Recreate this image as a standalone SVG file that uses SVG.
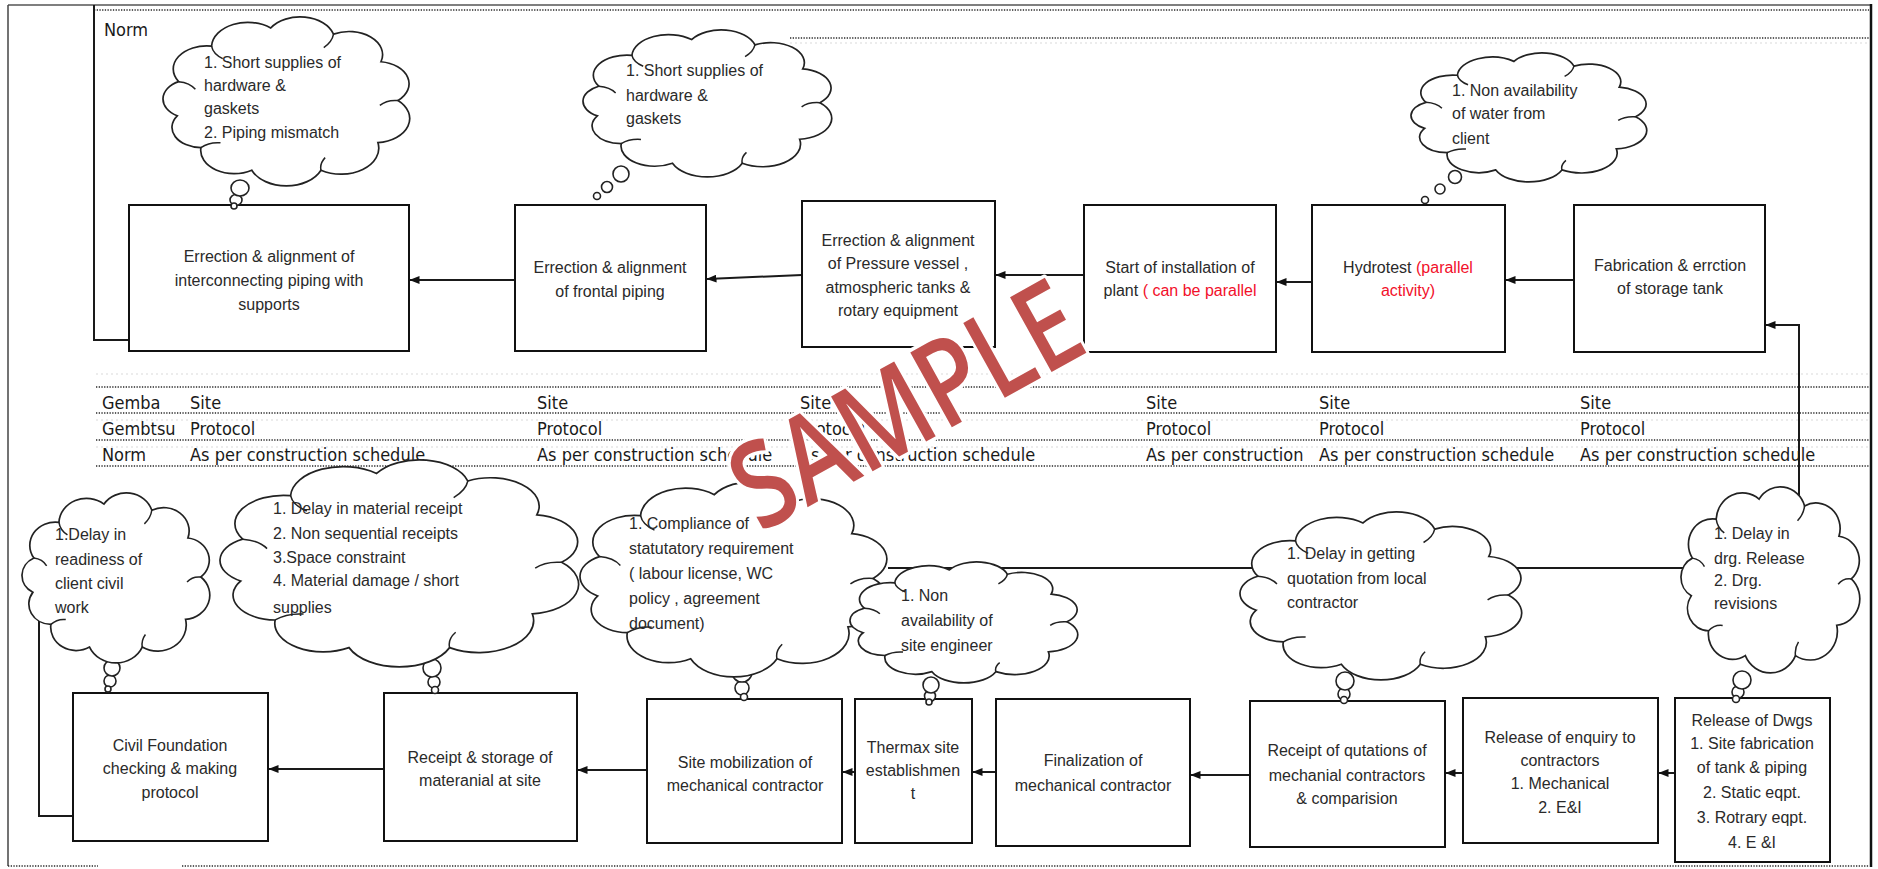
<svg xmlns="http://www.w3.org/2000/svg" width="1878" height="869" viewBox="0 0 1878 869">
<style>
  .box{fill:#fff;stroke:#111;stroke-width:2}
  .bt{font-family:"Liberation Sans",Arial,sans-serif;font-size:16px;fill:#2a2a2a;text-anchor:middle}
  .ct{font-family:"Liberation Sans",Arial,sans-serif;font-size:16px;fill:#2a2a2a}
  .tt{font-family:"DejaVu Sans Condensed","DejaVu Sans",sans-serif;font-stretch:condensed;font-size:18px;fill:#1a1a1a}
  .red{fill:#f2102a}
  .con{fill:none;stroke:#1a1a1a;stroke-width:2}
  .arr{marker-end:url(#ah)}
  .dot{stroke:#2a2a2a;stroke-width:1.6;stroke-dasharray:1.3 1.4;fill:none}
  .faint{stroke:#dadada;stroke-width:1.2;stroke-dasharray:2 3;fill:none}
  .cl{fill:#fff;stroke:#222;stroke-width:1.7;vector-effect:non-scaling-stroke}
  .cli{fill:none;stroke:#222;stroke-width:1.5;vector-effect:non-scaling-stroke}
  .bub{fill:#fff;stroke:#222;stroke-width:1.6}
  .wm{font-family:"Open Sans","Liberation Sans",sans-serif;font-weight:600;font-size:120px;fill:#c0504d;stroke:#fff;stroke-width:7;paint-order:stroke;stroke-linejoin:round;text-anchor:middle}
</style>
<defs>
  <marker id="ah" viewBox="0 0 10 8" refX="9.5" refY="4" markerWidth="10" markerHeight="8" markerUnits="userSpaceOnUse" orient="auto">
    <path d="M0,0 L10,4 L0,8 z" fill="#111"/>
  </marker>
  <!-- cloud outline, stretched to each callout's box -->
  <symbol id="cloud" viewBox="5.8 6.7 88.5 87.6" preserveAspectRatio="none" overflow="visible">
    <path class="cl" vector-effect="non-scaling-stroke" d="M10.9,57.9 A10,10 0 0 1 11.4,40.2 A12,12 0 0 1 23.2,21.8 A13,13 0 0 1 44.4,12.4 A12.5,12.5 0 0 1 66.9,15.6 A12,12 0 0 1 83.9,29.9 A11.5,11.5 0 0 1 90,50 A12.5,12.5 0 0 1 82.8,71.8 A13.5,13.5 0 0 1 62.4,86.1 A13.5,13.5 0 0 1 37.6,86.1 A12,12 0 0 1 19.4,74.4 A10.5,10.5 0 0 1 10.9,57.9 Z"/>
    <path class="cli" vector-effect="non-scaling-stroke" d="M11.4,40.2 q4,0.5 6,4 M23.2,21.8 q0.5,4 4,6.5 M66.9,15.6 q-0.5,4 -3.5,7 M90,50 q-4,-0.5 -6.5,2.5 M62.4,86.1 q-0.5,-3.5 1.5,-6.5 M19.4,74.4 q3,-3 7,-2.5"/>
  </symbol>
</defs>

<rect width="1878" height="869" fill="#fff"/>

<!-- page frame -->
<g id="frame">
  <line x1="8" y1="5" x2="1871" y2="5" stroke="#555" stroke-width="1.5"/>
  <line x1="8" y1="5" x2="8" y2="866" stroke="#444" stroke-width="1.5"/>
  <line x1="1871" y1="4" x2="1871" y2="867" stroke="#111" stroke-width="2.5"/>
  <line class="dot" x1="8" y1="866" x2="98" y2="866"/>
  <line class="dot" x1="182" y1="866" x2="1869" y2="866"/>
</g>

<!-- gemba / gembutsu / norm tables -->
<g id="tables">
  <line class="dot" x1="94" y1="10" x2="1869" y2="10"/>
  <line class="dot" x1="790" y1="38" x2="1869" y2="38"/>
  <line class="faint" x1="790" y1="43" x2="1869" y2="43"/>
  <text class="tt" x="104" y="36">Norm</text>

  <line class="faint" x1="96" y1="374" x2="1869" y2="374"/>
  <line class="dot" x1="96" y1="387" x2="1869" y2="387"/>
  <line class="dot" x1="96" y1="413" x2="1869" y2="413"/>
  <line class="faint" x1="96" y1="420" x2="1869" y2="420"/>
  <line class="dot" x1="96" y1="440" x2="1869" y2="440"/>
  <line class="faint" x1="96" y1="447" x2="1869" y2="447"/>
  <line class="dot" x1="96" y1="466" x2="1869" y2="466"/>

  <text class="tt" x="102" y="409">Gemba</text>
  <text class="tt" x="102" y="435">Gembtsu</text>
  <text class="tt" x="102" y="461">Norm</text>

  <text class="tt" x="190" y="409">Site</text>
  <text class="tt" x="537" y="409">Site</text>
  <text class="tt" x="800" y="409">Site</text>
  <text class="tt" x="1146" y="409">Site</text>
  <text class="tt" x="1319" y="409">Site</text>
  <text class="tt" x="1580" y="409">Site</text>

  <text class="tt" x="190" y="435">Protocol</text>
  <text class="tt" x="537" y="435">Protocol</text>
  <text class="tt" x="800" y="435">Protocol</text>
  <text class="tt" x="1146" y="435">Protocol</text>
  <text class="tt" x="1319" y="435">Protocol</text>
  <text class="tt" x="1580" y="435">Protocol</text>

  <text class="tt" x="190" y="461">As per construction schedule</text>
  <text class="tt" x="537" y="461">As per construction schedule</text>
  <text class="tt" x="800" y="461">As per construction schedule</text>
  <text class="tt" x="1146" y="461">As per construction</text>
  <text class="tt" x="1319" y="461">As per construction schedule</text>
  <text class="tt" x="1580" y="461">As per construction schedule</text>
</g>

<!-- connectors -->
<g id="connectors">
  <path class="con" d="M129,340 H94 V5"/>
  <path class="con" d="M73,816 H39 V560"/>
  <path class="con arr" d="M1799,600 V325 H1766"/>
  <path class="con" d="M888,568 H1700"/>

  <path class="con arr" d="M1574,280 H1506"/>
  <path class="con arr" d="M1312,282 H1277"/>
  <path class="con arr" d="M1084,275 H996"/>
  <path class="con arr" d="M802,275 L707,279"/>
  <path class="con arr" d="M515,280 H410"/>

  <path class="con arr" d="M1675,773 H1659"/>
  <path class="con arr" d="M1463,773 H1446"/>
  <path class="con arr" d="M1250,775 H1191"/>
  <path class="con arr" d="M996,772 H973"/>
  <path class="con arr" d="M855,772 H843"/>
  <path class="con arr" d="M647,770 H578"/>
  <path class="con arr" d="M384,769 H269"/>
</g>

<!-- process steps, upper line -->
<g id="n-interconnecting-piping">
  <rect class="box" x="129" y="205" width="280" height="146"/>
  <text class="bt"><tspan x="269" y="262">Errection &amp; alignment of</tspan><tspan x="269" y="286">interconnecting  piping with</tspan><tspan x="269" y="310">supports</tspan></text>
</g>
<g id="n-frontal-piping">
  <rect class="box" x="515" y="205" width="191" height="146"/>
  <text class="bt"><tspan x="610" y="273">Errection &amp; alignment</tspan><tspan x="610" y="297">of frontal  piping</tspan></text>
</g>
<g id="n-pressure-vessel">
  <rect class="box" x="802" y="201" width="193" height="146"/>
  <text class="bt"><tspan x="898" y="246">Errection &amp; alignment</tspan><tspan x="898" y="269">of Pressure vessel ,</tspan><tspan x="898" y="293">atmospheric tanks  &amp;</tspan><tspan x="898" y="316">rotary equipment</tspan></text>
</g>
<g id="n-start-installation">
  <rect class="box" x="1084" y="205" width="192" height="147"/>
  <text class="bt"><tspan x="1180" y="273">Start of installation  of</tspan><tspan x="1180" y="296">plant <tspan class="red">( can be parallel</tspan></tspan></text>
</g>
<g id="n-hydrotest">
  <rect class="box" x="1312" y="205" width="193" height="147"/>
  <text class="bt"><tspan x="1408" y="273">Hydrotest <tspan class="red">(parallel</tspan></tspan><tspan class="red" x="1408" y="296">activity)</tspan></text>
</g>
<g id="n-storage-tank">
  <rect class="box" x="1574" y="205" width="191" height="147"/>
  <text class="bt"><tspan x="1670" y="271">Fabrication &amp; errction</tspan><tspan x="1670" y="294">of storage tank</tspan></text>
</g>

<!-- process steps, lower line -->
<g id="n-civil-foundation">
  <rect class="box" x="73" y="693" width="195" height="148"/>
  <text class="bt"><tspan x="170" y="751">Civil Foundation</tspan><tspan x="170" y="774">checking &amp; making</tspan><tspan x="170" y="798">protocol</tspan></text>
</g>
<g id="n-material-receipt">
  <rect class="box" x="384" y="693" width="193" height="148"/>
  <text class="bt"><tspan x="480" y="763">Receipt &amp; storage of</tspan><tspan x="480" y="786">materanial at site</tspan></text>
</g>
<g id="n-site-mobilization">
  <rect class="box" x="647" y="699" width="195" height="144"/>
  <text class="bt"><tspan x="745" y="768">Site mobilization  of</tspan><tspan x="745" y="791">mechanical contractor</tspan></text>
</g>
<g id="n-site-establishment">
  <rect class="box" x="855" y="699" width="117" height="144"/>
  <text class="bt"><tspan x="913" y="753">Thermax site</tspan><tspan x="913" y="776">establishmen</tspan><tspan x="913" y="799">t</tspan></text>
</g>
<g id="n-finalization">
  <rect class="box" x="996" y="699" width="194" height="147"/>
  <text class="bt"><tspan x="1093" y="766">Finalization of</tspan><tspan x="1093" y="791">mechanical  contractor</tspan></text>
</g>
<g id="n-quotations">
  <rect class="box" x="1250" y="701" width="195" height="146"/>
  <text class="bt"><tspan x="1347" y="756">Receipt of qutations of</tspan><tspan x="1347" y="781">mechanial contractors</tspan><tspan x="1347" y="804">&amp; comparision</tspan></text>
</g>
<g id="n-enquiry">
  <rect class="box" x="1463" y="698" width="195" height="145"/>
  <text class="bt"><tspan x="1560" y="743">Release of enquiry to</tspan><tspan x="1560" y="766">contractors</tspan><tspan x="1560" y="789">1. Mechanical</tspan><tspan x="1560" y="813">2. E&amp;I</tspan></text>
</g>
<g id="n-release-dwgs">
  <rect class="box" x="1675" y="698" width="155" height="164"/>
  <text class="bt"><tspan x="1752" y="726">Release of Dwgs</tspan><tspan x="1752" y="749">1. Site fabrication</tspan><tspan x="1752" y="773">of tank &amp; piping</tspan><tspan x="1752" y="798">2. Static eqpt.</tspan><tspan x="1752" y="823">3. Rotrary eqpt.</tspan><tspan x="1752" y="848">4. E &amp;I</tspan></text>
</g>

<!-- issue callouts -->
<g id="c-piping-mismatch">
  <ellipse class="bub" cx="236" cy="200" rx="6" ry="5.5"/>
  <ellipse class="bub" cx="234" cy="206" rx="3" ry="3"/>
  <ellipse class="bub" cx="240" cy="188" rx="9" ry="8"/>
  <use href="#cloud" x="163" y="17" width="247" height="169"/>
  <text class="ct"><tspan x="204" y="68">1. Short supplies  of</tspan><tspan x="204" y="91">hardware &amp;</tspan><tspan x="204" y="114">gaskets</tspan><tspan x="204" y="138">2. Piping mismatch</tspan></text>
</g>
<g id="c-short-supplies">
  <circle class="bub" cx="597" cy="196" r="3.5"/>
  <circle class="bub" cx="607" cy="187" r="5.5"/>
  <circle class="bub" cx="621" cy="174" r="8"/>
  <use href="#cloud" x="583" y="30" width="249" height="147"/>
  <text class="ct"><tspan x="626" y="76">1. Short supplies  of</tspan><tspan x="626" y="101">hardware &amp;</tspan><tspan x="626" y="124">gaskets</tspan></text>
</g>
<g id="c-water">
  <circle class="bub" cx="1425" cy="200" r="3.5"/>
  <circle class="bub" cx="1440" cy="189" r="5"/>
  <circle class="bub" cx="1455" cy="177" r="6.5"/>
  <use href="#cloud" x="1411" y="53" width="236" height="129"/>
  <text class="ct"><tspan x="1452" y="96">1. Non availability</tspan><tspan x="1452" y="119">of water from</tspan><tspan x="1452" y="144">client</tspan></text>
</g>
<g id="c-civil-readiness">
  <ellipse class="bub" cx="110" cy="681" rx="6" ry="6"/>
  <ellipse class="bub" cx="108" cy="689" rx="3" ry="3"/>
  <ellipse class="bub" cx="112" cy="668" rx="8" ry="8"/>
  <use href="#cloud" x="22" y="493" width="188" height="170"/>
  <text class="ct"><tspan x="55" y="540">1.Delay in</tspan><tspan x="55" y="565">readiness of</tspan><tspan x="55" y="589">client civil</tspan><tspan x="55" y="613">work</tspan></text>
</g>
<g id="c-material">
  <circle class="bub" cx="434" cy="682" r="6"/>
  <circle class="bub" cx="435" cy="690" r="3.5"/>
  <circle class="bub" cx="432" cy="668" r="9"/>
  <use href="#cloud" x="220" y="460" width="359" height="207"/>
  <text class="ct"><tspan x="273" y="514">1. Delay in material receipt</tspan><tspan x="273" y="539">2. Non sequential  receipts</tspan><tspan x="273" y="563">3.Space constraint</tspan><tspan x="273" y="586">4. Material damage / short</tspan><tspan x="273" y="613">supplies</tspan></text>
</g>
<g id="c-statutory">
  <circle class="bub" cx="742" cy="688" r="7"/>
  <circle class="bub" cx="744" cy="697" r="3.5"/>
  <circle class="bub" cx="742" cy="672" r="10"/>
  <use href="#cloud" x="580" y="482" width="308" height="195"/>
  <text class="ct"><tspan x="629" y="529">1. Compliance  of</tspan><tspan x="629" y="554">statutatory  requirement</tspan><tspan x="629" y="579">( labour license, WC</tspan><tspan x="629" y="604">policy , agreement</tspan><tspan x="629" y="629">document)</tspan></text>
</g>
<g id="c-site-engineer">
  <circle class="bub" cx="930" cy="696" r="5.5"/>
  <circle class="bub" cx="929" cy="702" r="3"/>
  <circle class="bub" cx="931" cy="685" r="8"/>
  <use href="#cloud" x="850" y="562" width="228" height="121"/>
  <text class="ct"><tspan x="901" y="601">1. Non</tspan><tspan x="901" y="626">availability of</tspan><tspan x="901" y="651">site engineer</tspan></text>
</g>
<g id="c-quotation">
  <circle class="bub" cx="1344" cy="694" r="6"/>
  <circle class="bub" cx="1344" cy="700" r="3.5"/>
  <circle class="bub" cx="1345" cy="681" r="9"/>
  <use href="#cloud" x="1240" y="512" width="282" height="168"/>
  <text class="ct"><tspan x="1287" y="559">1. Delay in getting</tspan><tspan x="1287" y="584">quotation from  local</tspan><tspan x="1287" y="608">contractor</tspan></text>
</g>
<g id="c-drawings">
  <circle class="bub" cx="1738" cy="692" r="6"/>
  <circle class="bub" cx="1736" cy="699" r="3.5"/>
  <circle class="bub" cx="1742" cy="680" r="9"/>
  <use href="#cloud" x="1681" y="487" width="179" height="186"/>
  <text class="ct"><tspan x="1714" y="539">1. Delay in</tspan><tspan x="1714" y="564">drg. Release</tspan><tspan x="1714" y="586">2. Drg.</tspan><tspan x="1714" y="609">revisions</tspan></text>
</g>

<!-- watermark -->
<g id="watermark" transform="translate(905,404) rotate(-29) scale(0.82,1)">
  <text class="wm" x="0" y="43">SAMPLE</text>
</g>
</svg>
